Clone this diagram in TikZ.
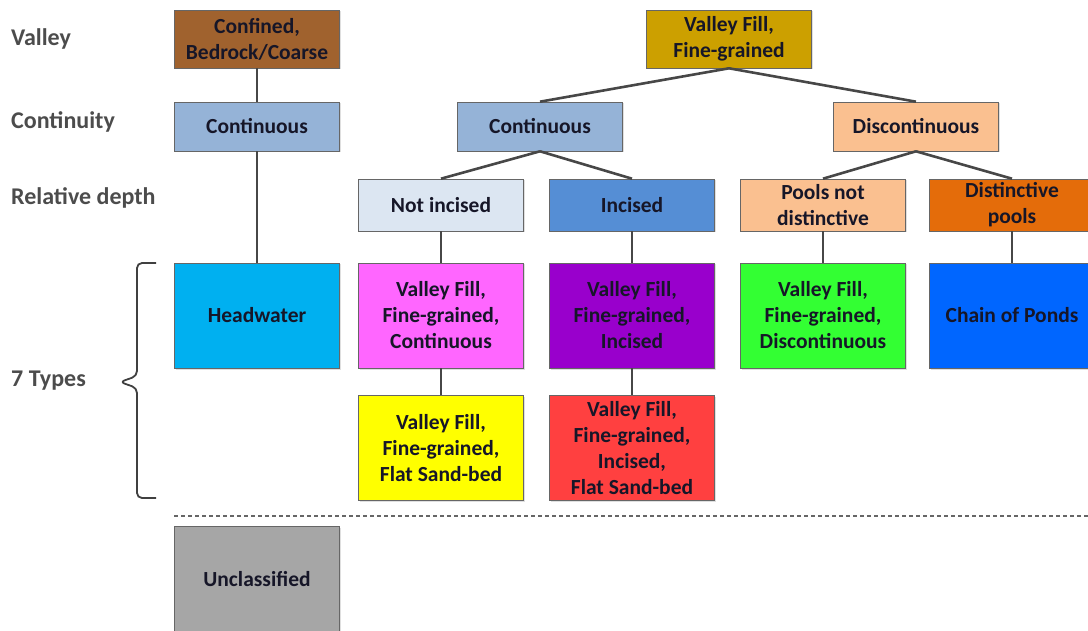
\documentclass[tikz,border=0pt]{standalone}
\usepackage{fontspec}
\setmainfont{Carlito}
\usetikzlibrary{shadows}

\definecolor{confbrown}{RGB}{160,98,46}
\definecolor{fillgold}{RGB}{204,160,0}
\definecolor{contblue}{RGB}{149,179,215}
\definecolor{discpeach}{RGB}{250,192,144}
\definecolor{notincblue}{RGB}{220,230,242}
\definecolor{incblue}{RGB}{85,142,213}
\definecolor{poolorange}{RGB}{228,108,10}
\definecolor{headcyan}{RGB}{0,176,240}
\definecolor{vfcmagenta}{RGB}{255,102,255}
\definecolor{vfipurple}{RGB}{153,0,204}
\definecolor{vfdgreen}{RGB}{51,255,51}
\definecolor{chainblue}{RGB}{0,102,255}
\definecolor{sandyellow}{RGB}{255,255,0}
\definecolor{sandred}{RGB}{255,64,64}
\definecolor{unclgray}{RGB}{166,166,166}
\definecolor{boxtext}{RGB}{22,22,40}

\begin{document}
\begin{tikzpicture}[
    x=1pt, y=-1pt,
    every node/.style = {font=\bfseries\fontsize{21.5}{26}\selectfont},
    box/.style        = {draw=black!60, line width=0.6pt, minimum width=165pt,
                         inner sep=0pt, align=center, text=boxtext,
                         drop shadow={opacity=0.25, shadow xshift=1.5pt, shadow yshift=-1.5pt}},
    valleybox/.style  = {box, minimum height=58pt},
    contbox/.style    = {box, minimum height=49pt},
    depthbox/.style   = {box, minimum height=52pt},
    typebox/.style    = {box, minimum height=105pt},
    link/.style       = {draw=black!72, line width=2.6pt},
    rowlabel/.style   = {anchor=west, inner sep=0pt, text=black!70,
                         font=\bfseries\fontsize{24}{28}\selectfont},
]
\useasboundingbox (0,0) rectangle (1088,631);

% row labels
\node [rowlabel] (lvalley) at (11,39)  {Valley};
\node [rowlabel] (lcont)   at (11,122) {Continuity};
\node [rowlabel] (ldepth)  at (11,198) {Relative depth};
\node [rowlabel] (ltypes)  at (11,381) {7 Types};

% valley
\node [valleybox, fill=confbrown] (conf) at (257,39) {Confined,\\Bedrock/Coarse};
\node [valleybox, fill=fillgold]  (vf)   at (729,39) {Valley Fill,\\Fine-grained};

% continuity
\node [contbox, fill=contblue]  (contL) at (257,126.5) {Continuous};
\node [contbox, fill=contblue]  (contM) at (540,126.5) {Continuous};
\node [contbox, fill=discpeach] (disc)  at (916,126.5) {Discontinuous};

% relative depth
\node [depthbox, fill=notincblue] (notinc) at (441,205)  {Not incised};
\node [depthbox, fill=incblue]    (inc)    at (632,205)  {Incised};
\node [depthbox, fill=discpeach]  (pnd)    at (823,205)  {Pools not\\distinctive};
\node [depthbox, fill=poolorange] (dp)     at (1012,205) {Distinctive\\pools};

% types
\node [typebox, fill=headcyan]   (head)  at (257,315.5)  {Headwater};
\node [typebox, fill=vfcmagenta] (vfc)   at (441,315.5)  {Valley Fill,\\Fine-grained,\\Continuous};
\node [typebox, fill=vfipurple]  (vfi)   at (632,315.5)  {Valley Fill,\\Fine-grained,\\Incised};
\node [typebox, fill=vfdgreen]   (vfd)   at (823,315.5)  {Valley Fill,\\Fine-grained,\\Discontinuous};
\node [typebox, fill=chainblue]  (chain) at (1012,315.5) {Chain of Ponds};
\node [typebox, fill=sandyellow] (vfs)   at (441,448)    {Valley Fill,\\Fine-grained,\\Flat Sand-bed};
\node [typebox, fill=sandred]    (vfis)  at (632,448)    {Valley Fill,\\Fine-grained,\\Incised,\\Flat Sand-bed};

\node [typebox, fill=unclgray] (uncl) at (257,579) {Unclassified};

% links
\draw [link] (conf.south)   -- (contL.north);
\draw [link] (contL.south)  -- (head.north);
\draw [link] (vf.south)     -- (contM.north);
\draw [link] (vf.south)     -- (disc.north);
\draw [link] (contM.south)  -- (notinc.north);
\draw [link] (contM.south)  -- (inc.north);
\draw [link] (disc.south)   -- (pnd.north);
\draw [link] (disc.south)   -- (dp.north);
\draw [link] (notinc.south) -- (vfc.north);
\draw [link] (vfc.south)    -- (vfs.north);
\draw [link] (inc.south)    -- (vfi.north);
\draw [link] (vfi.south)    -- (vfis.north);
\draw [link] (pnd.south)    -- (vfd.north);
\draw [link] (dp.south)     -- (chain.north);

% brace round the types
\coordinate (bracetop) at (156,263);
\coordinate (bracebot) at (156,498);
\draw [draw=black!75, line width=1.8pt, rounded corners=5pt]
  (bracetop) -| (137,376) -- (120,382) -- (137,388) |- (bracebot);

% dashed separator
\coordinate (sepL) at (174,516);
\coordinate (sepR) at (1088,516);
\draw [black!60, line width=1.3pt, dash pattern=on 4pt off 3pt] (sepL) -- (sepR);
\end{tikzpicture}
\end{document}
